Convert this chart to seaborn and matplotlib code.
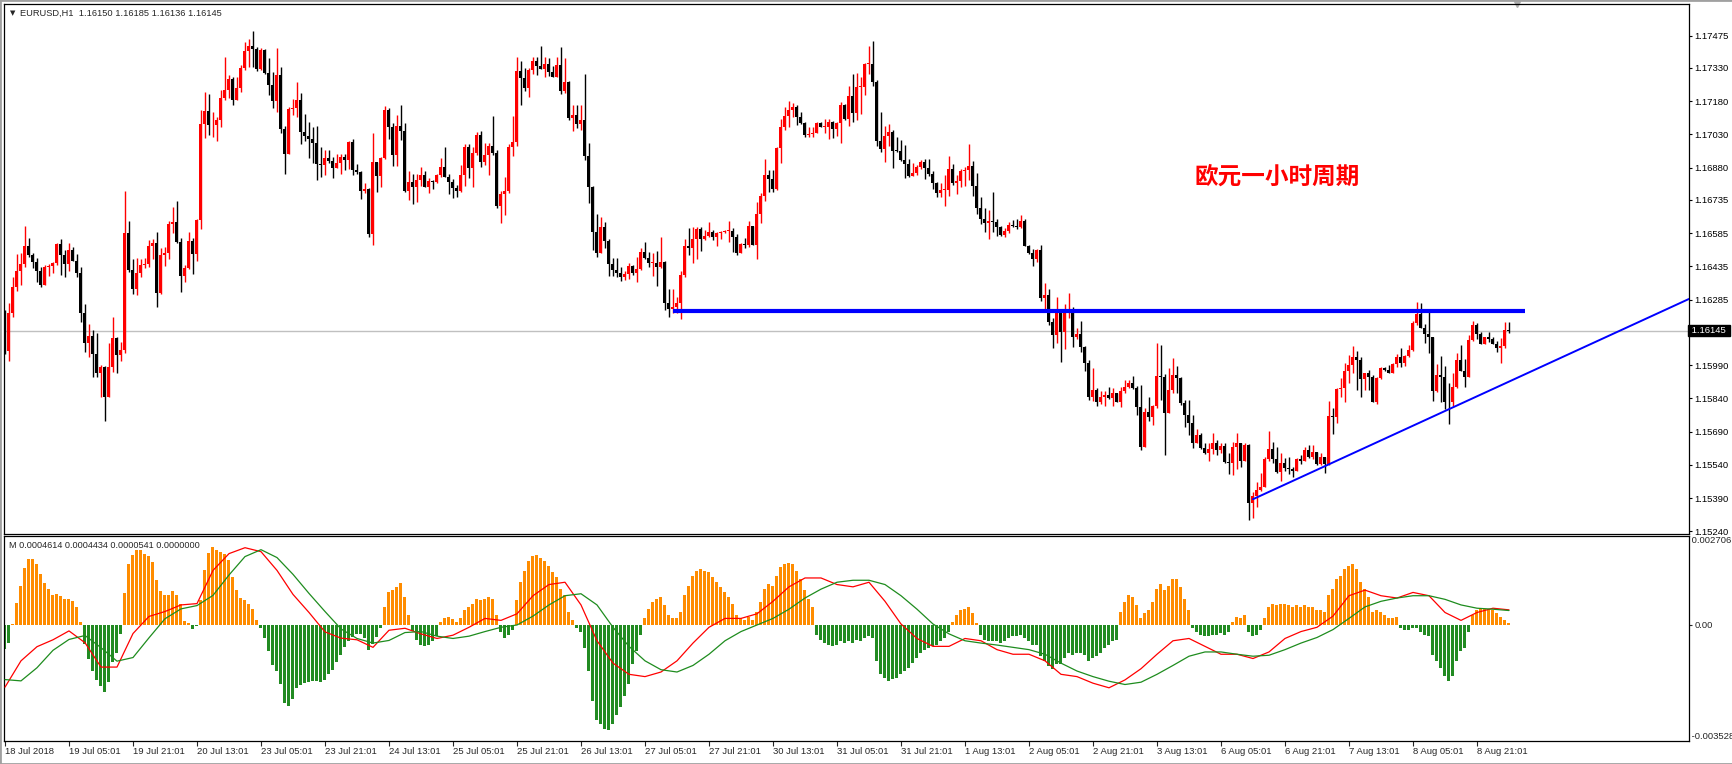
import numpy as np
import matplotlib
matplotlib.use("Agg")
import matplotlib.pyplot as plt
import matplotlib.transforms as mtransforms
from matplotlib.patches import Rectangle
import seaborn as sns

sns.set_theme(style="white")
plt.rcParams['font.family'] = ['Liberation Sans', 'DejaVu Sans']

# ---------------- data ----------------
symbol_header = "EURUSD,H1  1.16150 1.16185 1.16136 1.16145"
ind_header = "M 0.0004614 0.0004434 0.0000541 0.0000000"
title_cn = "欧元一小时周期"

first_open = 1.16198
close = [
1.16055,1.16223,1.16342,1.16414,1.16446,1.16527,1.16488,1.16456,1.16416,1.16351,
1.16432,1.16437,1.16450,1.16536,1.16486,1.16447,1.16509,1.16461,1.16407,1.16226,
1.16091,1.16123,1.16039,1.15956,1.15981,1.15848,1.15981,1.16112,1.16037,1.16058,
1.16584,1.16419,1.16335,1.16404,1.16441,1.16447,1.16527,1.16542,1.16317,1.16486,
1.16497,1.16628,1.16637,1.16546,1.16392,1.16429,1.16551,1.16489,1.16644,1.17077,
1.17137,1.17071,1.17071,1.17095,1.17194,1.17230,1.17280,1.17185,1.17241,1.17331,
1.17406,1.17430,1.17417,1.17325,1.17411,1.17305,1.17253,1.17179,1.17298,1.17056,
1.16942,1.17145,1.17149,1.17185,1.17043,1.17025,1.17008,1.16993,1.16897,1.16894,
1.16924,1.16909,1.16880,1.16900,1.16930,1.16913,1.16996,1.16871,1.16859,1.16776,
1.16782,1.16583,1.16906,1.16844,1.16924,1.17140,1.17065,1.16937,1.17068,1.17047,
1.16775,1.16814,1.16794,1.16825,1.16847,1.16794,1.16820,1.16815,1.16847,1.16885,
1.16840,1.16817,1.16790,1.16776,1.16846,1.16975,1.16880,1.16945,1.17027,1.16906,
1.16937,1.16978,1.16948,1.16707,1.16761,1.16775,1.16973,1.16996,1.17316,1.17286,
1.17241,1.17320,1.17361,1.17340,1.17327,1.17348,1.17313,1.17290,1.17343,1.17227,
1.17266,1.17106,1.17119,1.17076,1.17095,1.16933,1.16794,1.16589,1.16497,1.16614,
1.16551,1.16446,1.16419,1.16404,1.16389,1.16401,1.16437,1.16404,1.16423,1.16500,
1.16473,1.16452,1.16452,1.16434,1.16455,1.16271,1.16241,1.16250,1.16268,1.16395,
1.16527,1.16519,1.16560,1.16604,1.16560,1.16574,1.16592,1.16569,1.16584,1.16592,
1.16596,1.16596,1.16569,1.16497,1.16536,1.16531,1.16619,1.16531,1.16671,1.16754,
1.16847,1.16828,1.16782,1.16969,1.17065,1.17113,1.17140,1.17152,1.17110,1.17083,
1.17027,1.17034,1.17036,1.17083,1.17065,1.17065,1.17088,1.17056,1.17080,1.17163,
1.17100,1.17203,1.17128,1.17244,1.17245,1.17348,1.17349,1.17268,1.17002,1.16963,
1.17023,1.17043,1.16957,1.16955,1.16915,1.16897,1.16843,1.16858,1.16885,1.16907,
1.16880,1.16850,1.16809,1.16767,1.16779,1.16779,1.16874,1.16809,1.16820,1.16865,
1.16870,1.16888,1.16799,1.16700,1.16647,1.16629,1.16640,1.16635,1.16614,1.16577,
1.16596,1.16622,1.16619,1.16611,1.16638,1.16528,1.16497,1.16467,1.16509,1.16294,
1.16306,1.16186,1.16124,1.16223,1.16141,1.16235,1.16243,1.16118,1.16130,1.16073,
1.15998,1.15848,1.15878,1.15825,1.15848,1.15855,1.15843,1.15863,1.15825,1.15873,
1.15893,1.15911,1.15885,1.15799,1.15619,1.15780,1.15757,1.15805,1.15941,1.15938,
1.15775,1.15878,1.15945,1.15930,1.15817,1.15765,1.15727,1.15637,1.15675,1.15618,
1.15595,1.15610,1.15637,1.15607,1.15625,1.15553,1.15550,1.15619,1.15637,1.15558,
1.15630,1.15370,1.15401,1.15427,1.15442,1.15567,1.15612,1.15565,1.15508,1.15550,
1.15525,1.15522,1.15510,1.15567,1.15559,1.15607,1.15574,1.15598,1.15544,1.15573,
1.15544,1.15762,1.15755,1.15882,1.15885,1.15964,1.15991,1.16024,1.16013,1.15929,
1.15953,1.15938,1.15825,1.15930,1.15978,1.15968,1.15956,1.15994,1.16024,1.15998,
1.16031,1.16058,1.16178,1.16220,1.16159,1.16129,1.16115,1.15875,1.15945,1.15938,
1.15825,1.15821,1.15890,1.16013,1.15965,1.15938,1.16103,1.16171,1.16130,1.16085,
1.16115,1.16108,1.16085,1.16069,1.16076,1.16148,1.16145]

high = [
1.16238,1.16270,1.16389,1.16491,1.16497,1.16619,1.16561,1.16494,1.16473,1.16434,
1.16441,1.16444,1.16453,1.16539,1.16558,1.16509,1.16542,1.16524,1.16491,1.16434,
1.16265,1.16175,1.16148,1.16133,1.15990,1.15986,1.16088,1.16208,1.16118,1.16094,
1.16776,1.16640,1.16467,1.16471,1.16467,1.16473,1.16554,1.16558,1.16592,1.16516,
1.16521,1.16640,1.16704,1.16730,1.16561,1.16441,1.16592,1.16561,1.16647,1.17140,
1.17223,1.17212,1.17133,1.17110,1.17230,1.17381,1.17298,1.17287,1.17287,1.17342,
1.17447,1.17460,1.17496,1.17426,1.17418,1.17414,1.17376,1.17310,1.17421,1.17336,
1.17068,1.17152,1.17190,1.17268,1.17217,1.17122,1.17086,1.17065,1.17068,1.16975,
1.16960,1.16960,1.16927,1.16940,1.16942,1.16942,1.17002,1.17011,1.16897,1.16867,
1.16809,1.16787,1.17036,1.16907,1.16930,1.17158,1.17148,1.17080,1.17118,1.17163,
1.17080,1.16865,1.16852,1.16852,1.16882,1.16867,1.16832,1.16825,1.16852,1.16924,
1.16973,1.16852,1.16829,1.16802,1.16892,1.16987,1.16987,1.16975,1.17043,1.17047,
1.16990,1.16990,1.17113,1.16960,1.16776,1.16840,1.16987,1.17113,1.17381,1.17361,
1.17328,1.17328,1.17381,1.17381,1.17429,1.17381,1.17376,1.17339,1.17381,1.17423,
1.17373,1.17272,1.17163,1.17163,1.17163,1.17302,1.16990,1.16799,1.16670,1.16659,
1.16637,1.16557,1.16473,1.16473,1.16434,1.16416,1.16449,1.16441,1.16476,1.16516,
1.16546,1.16501,1.16494,1.16503,1.16567,1.16461,1.16332,1.16332,1.16298,1.16413,
1.16557,1.16607,1.16611,1.16611,1.16611,1.16599,1.16635,1.16599,1.16592,1.16596,
1.16599,1.16640,1.16607,1.16580,1.16539,1.16561,1.16640,1.16619,1.16727,1.16764,
1.16918,1.16870,1.16870,1.16975,1.17101,1.17152,1.17181,1.17170,1.17163,1.17131,
1.17088,1.17062,1.17065,1.17088,1.17088,1.17100,1.17100,1.17092,1.17085,1.17178,
1.17166,1.17248,1.17302,1.17308,1.17290,1.17354,1.17429,1.17451,1.17275,1.17131,
1.17068,1.17077,1.17050,1.17020,1.17005,1.16982,1.16918,1.16903,1.16891,1.16915,
1.16918,1.16919,1.16867,1.16817,1.16809,1.16846,1.16933,1.16897,1.16847,1.16873,
1.16882,1.16987,1.16912,1.16855,1.16749,1.16697,1.16689,1.16770,1.16647,1.16619,
1.16607,1.16637,1.16644,1.16647,1.16667,1.16647,1.16531,1.16515,1.16512,1.16531,
1.16359,1.16332,1.16201,1.16298,1.16223,1.16265,1.16313,1.16253,1.16156,1.16189,
1.16076,1.16013,1.15975,1.15885,1.15875,1.15875,1.15890,1.15887,1.15866,1.15893,
1.15923,1.15923,1.15941,1.15896,1.15900,1.15795,1.15848,1.15810,1.16091,1.16081,
1.15950,1.15975,1.16023,1.15986,1.15938,1.15833,1.15833,1.15765,1.15700,1.15685,
1.15640,1.15640,1.15682,1.15652,1.15640,1.15640,1.15592,1.15645,1.15685,1.15640,
1.15640,1.15633,1.15416,1.15461,1.15502,1.15577,1.15693,1.15645,1.15622,1.15592,
1.15570,1.15574,1.15532,1.15570,1.15585,1.15619,1.15630,1.15630,1.15600,1.15592,
1.15577,1.15828,1.15795,1.15885,1.15930,1.15998,1.16036,1.16076,1.16055,1.16028,
1.15956,1.15968,1.15945,1.15938,1.15983,1.15983,1.15991,1.16001,1.16039,1.16066,
1.16036,1.16081,1.16190,1.16275,1.16269,1.16174,1.16238,1.16118,1.15995,1.16031,
1.15986,1.15911,1.15953,1.16046,1.16081,1.16016,1.16126,1.16189,1.16181,1.16138,
1.16118,1.16141,1.16118,1.16099,1.16111,1.16183,1.16185]

low = [
1.16039,1.16010,1.16208,1.16324,1.16351,1.16434,1.16479,1.16429,1.16366,1.16344,
1.16351,1.16392,1.16404,1.16441,1.16396,1.16389,1.16416,1.16458,1.16389,1.16186,
1.16050,1.16028,1.15938,1.15938,1.15848,1.15739,1.15848,1.15960,1.15953,1.16010,
1.16043,1.16410,1.16310,1.16306,1.16389,1.16426,1.16431,1.16467,1.16250,1.16310,
1.16438,1.16468,1.16584,1.16542,1.16321,1.16366,1.16422,1.16401,1.16461,1.16602,
1.17012,1.17027,1.17020,1.17002,1.17062,1.17185,1.17193,1.17163,1.17230,1.17223,
1.17320,1.17336,1.17333,1.17317,1.17320,1.17302,1.17208,1.17148,1.17131,1.17035,
1.16852,1.16942,1.17118,1.17110,1.16987,1.17002,1.16925,1.16900,1.16825,1.16837,
1.16847,1.16900,1.16835,1.16885,1.16852,1.16870,1.16873,1.16849,1.16852,1.16739,
1.16767,1.16569,1.16531,1.16770,1.16794,1.16918,1.17009,1.16889,1.16889,1.17005,
1.16772,1.16734,1.16716,1.16727,1.16797,1.16791,1.16767,1.16782,1.16809,1.16837,
1.16837,1.16761,1.16745,1.16749,1.16772,1.16797,1.16834,1.16794,1.16937,1.16883,
1.16892,1.16847,1.16937,1.16700,1.16632,1.16667,1.16767,1.16934,1.16978,1.17164,
1.17226,1.17200,1.17302,1.17299,1.17324,1.17287,1.17293,1.17290,1.17290,1.17212,
1.17218,1.17097,1.17047,1.17057,1.17050,1.16915,1.16719,1.16509,1.16479,1.16498,
1.16516,1.16393,1.16392,1.16389,1.16369,1.16375,1.16377,1.16396,1.16366,1.16419,
1.16467,1.16434,1.16392,1.16348,1.16428,1.16238,1.16208,1.16223,1.16226,1.16196,
1.16389,1.16486,1.16449,1.16467,1.16506,1.16554,1.16569,1.16554,1.16528,1.16560,
1.16584,1.16546,1.16501,1.16486,1.16494,1.16516,1.16524,1.16531,1.16468,1.16632,
1.16730,1.16772,1.16772,1.16779,1.16903,1.17050,1.17065,1.17110,1.17073,1.17076,
1.17017,1.17017,1.17017,1.17050,1.17062,1.17035,1.17008,1.17012,1.17025,1.16990,
1.17095,1.17068,1.17088,1.17095,1.17122,1.17208,1.17302,1.17250,1.16978,1.16949,
1.16907,1.16978,1.16880,1.16949,1.16910,1.16832,1.16837,1.16847,1.16849,1.16873,
1.16828,1.16843,1.16784,1.16749,1.16746,1.16709,1.16752,1.16800,1.16761,1.16794,
1.16799,1.16825,1.16754,1.16670,1.16626,1.16592,1.16560,1.16590,1.16572,1.16572,
1.16569,1.16584,1.16614,1.16602,1.16607,1.16527,1.16491,1.16438,1.16453,1.16280,
1.16235,1.16169,1.16068,1.16091,1.16002,1.16061,1.16204,1.16070,1.16106,1.16050,
1.15965,1.15833,1.15830,1.15807,1.15814,1.15807,1.15837,1.15807,1.15825,1.15802,
1.15866,1.15885,1.15882,1.15765,1.15607,1.15619,1.15739,1.15720,1.15795,1.15833,
1.15582,1.15772,1.15866,1.15863,1.15810,1.15709,1.15675,1.15615,1.15645,1.15610,
1.15589,1.15558,1.15589,1.15585,1.15592,1.15547,1.15499,1.15492,1.15522,1.15529,
1.15555,1.15289,1.15299,1.15352,1.15424,1.15439,1.15558,1.15547,1.15505,1.15469,
1.15510,1.15499,1.15487,1.15525,1.15544,1.15555,1.15570,1.15565,1.15540,1.15540,
1.15505,1.15540,1.15681,1.15728,1.15845,1.15821,1.15908,1.15953,1.15878,1.15848,
1.15878,1.15878,1.15825,1.15815,1.15927,1.15965,1.15956,1.15953,1.15980,1.15983,
1.15987,1.16025,1.16051,1.16171,1.16156,1.16091,1.16046,1.15830,1.15870,1.15821,
1.15792,1.15723,1.15803,1.15885,1.15964,1.15893,1.15938,1.16099,1.16108,1.16084,
1.16084,1.16093,1.16084,1.16048,1.16001,1.16066,1.16136]

# indicator histogram, one value per bar
hist = [
-0.00072,-0.00054,0.00004,0.00067,0.00119,0.00174,0.00201,0.00201,0.00184,0.00154,
0.00127,0.00108,0.00091,0.00093,0.00089,0.00078,0.00078,0.00073,0.00054,0.00008,
-0.00057,-0.00103,-0.00141,-0.00167,-0.00185,-0.00204,-0.00173,-0.00113,-0.00084,-0.00028,
0.00096,0.00184,0.00213,0.00227,0.00227,0.00217,0.00210,0.00192,0.00136,0.00103,
0.00090,0.00091,0.00103,0.00091,0.00063,0.00012,0.00006,-0.00011,-0.00003,0.00075,
0.00166,0.00218,0.00237,0.00229,0.00223,0.00217,0.00197,0.00146,0.00107,0.00083,
0.00075,0.00063,0.00048,0.00014,-0.00008,-0.00039,-0.00079,-0.00122,-0.00140,-0.00180,
-0.00237,-0.00246,-0.00224,-0.00193,-0.00182,-0.00176,-0.00172,-0.00170,-0.00169,-0.00173,
-0.00167,-0.00150,-0.00137,-0.00113,-0.00092,-0.00067,-0.00049,-0.00036,-0.00028,-0.00028,
-0.00039,-0.00075,-0.00057,-0.00036,-0.00008,0.00055,0.00100,0.00105,0.00116,0.00127,
0.00085,0.00030,-0.00018,-0.00047,
-0.00060,-0.00065,-0.00060,-0.00050,-0.00035,0.00010,0.00022,0.00025,0.00018,0.00010,
0.00020,0.00045,0.00055,0.00065,0.00080,0.00075,0.00078,0.00085,0.00080,0.00030,
-0.00020,-0.00040,-0.00030,-0.00015,0.00075,0.00130,0.00165,0.00195,0.00210,0.00212,
0.00205,0.00195,0.00180,0.00160,0.00145,0.00110,0.00090,0.00040,0.00015,-0.00010,
-0.00020,-0.00070,-0.00140,-0.00230,-0.00290,-0.00300,-0.00315,-0.00320,-0.00300,-0.00275,
-0.00250,-0.00215,-0.00180,-0.00120,-0.00080,-0.00030,0.00020,0.00050,0.00070,0.00080,
0.00085,0.00060,0.00030,0.00020,0.00020,0.00040,0.00090,0.00120,0.00150,0.00165,
0.00170,0.00165,0.00160,0.00145,0.00130,0.00115,0.00100,0.00085,0.00065,0.00030,
0.00020,0.00015,0.00025,0.00015,0.00040,0.00070,0.00110,0.00125,0.00120,0.00150,
0.00175,0.00185,0.00190,0.00185,0.00165,0.00140,0.00105,0.00080,0.00055,-0.00030,
-0.00045,-0.00055,-0.00060,-0.00065,-0.00060,-0.00050,-0.00055,-0.00050,-0.00055,-0.00045,
-0.00050,-0.00040,-0.00035,-0.00040,-0.00110,-0.00150,-0.00160,-0.00170,-0.00165,-0.00160,
-0.00150,-0.00140,-0.00130,-0.00115,-0.00100,-0.00085,-0.00075,-0.00070,-0.00065,-0.00060,
-0.00050,-0.00040,-0.00020,0.00010,0.00030,0.00045,0.00050,0.00055,0.00035,0.00005,
-0.00030,-0.00045,-0.00050,-0.00050,-0.00050,-0.00055,-0.00050,-0.00040,-0.00035,-0.00035,
-0.00030,-0.00040,-0.00050,-0.00060,-0.00060,-0.00095,-0.00110,-0.00125,-0.00135,-0.00120,
-0.00120,-0.00100,-0.00085,-0.00090,-0.00085,-0.00085,-0.00090,-0.00110,-0.00100,-0.00095,
-0.00085,-0.00070,-0.00060,-0.00050,-0.00045,0.00040,0.00070,0.00090,0.00085,0.00060,
0.00020,0.00035,0.00045,0.00070,0.00110,0.00125,0.00105,0.00120,0.00140,0.00140,
0.00115,0.00080,0.00045,-0.00010,-0.00020,-0.00030,-0.00035,-0.00035,-0.00030,-0.00030,
-0.00025,-0.00030,-0.00020,0.00010,0.00025,0.00020,0.00030,-0.00020,-0.00035,-0.00030,
-0.00015,0.00020,0.00055,0.00065,0.00060,0.00065,0.00065,0.00060,0.00055,0.00060,
0.00055,0.00060,0.00055,0.00055,0.00045,0.00045,0.00040,0.00090,0.00110,0.00140,
0.00150,0.00170,0.00180,0.00185,0.00170,0.00130,0.00110,0.00085,0.00040,0.00045,
0.00040,0.00030,0.00020,0.00020,0.00025,-0.00010,-0.00015,-0.00015,-0.00010,-0.00010,
-0.00020,-0.00030,-0.00035,-0.00090,-0.00110,-0.00130,-0.00155,-0.00170,-0.00155,-0.00110,
-0.00080,-0.00070,-0.00020,0.00030,0.00045,0.00050,0.00050,0.00048,0.00045,0.00035,
0.00025,0.00015,0.00005]

# signal lines, sampled every 4 bars
line_step = 4
red_line = [
-0.00189,-0.00109,-0.00066,-0.00045,-0.00018,-0.00054,-0.00128,-0.00128,-0.00026,0.00026,
0.00041,0.00061,0.00065,0.00166,0.00217,0.00235,0.00223,0.00166,0.00093,0.00038,
-0.00021,-0.00040,-0.00045,-0.00068,-0.00016,-0.00010,
-0.00027,-0.00041,-0.00031,-0.00007,0.00020,0.00014,0.00034,0.00089,0.00123,0.00130,
0.00061,-0.00048,-0.00116,-0.00150,-0.00157,-0.00143,-0.00109,-0.00055,-0.00007,0.00020,
0.00020,0.00034,0.00072,0.00116,0.00143,0.00143,0.00123,0.00116,0.00130,0.00072,
0.00003,-0.00041,-0.00065,-0.00065,-0.00041,-0.00048,-0.00075,-0.00089,-0.00089,-0.00109,
-0.00150,-0.00157,-0.00177,-0.00191,-0.00167,-0.00133,-0.00089,-0.00048,-0.00041,-0.00065,
-0.00089,-0.00089,-0.00102,-0.00082,-0.00041,-0.00020,-0.00007,0.00027,0.00089,0.00106,
0.00089,0.00082,0.00099,0.00089,0.00038,0.00014,0.00038,0.00051,0.00046]
green_line = [
-0.00166,-0.00170,-0.00130,-0.00077,-0.00044,-0.00032,-0.00069,-0.00110,-0.00099,-0.00039,
0.00019,0.00049,0.00059,0.00090,0.00152,0.00208,0.00229,0.00205,0.00154,0.00096,
0.00041,-0.00012,-0.00041,-0.00055,-0.00047,-0.00023,
-0.00020,-0.00034,-0.00041,-0.00034,-0.00020,-0.00007,0.00000,0.00027,0.00061,0.00089,
0.00095,0.00061,-0.00007,-0.00065,-0.00109,-0.00136,-0.00143,-0.00123,-0.00089,-0.00048,
-0.00020,0.00000,0.00020,0.00048,0.00082,0.00109,0.00130,0.00136,0.00136,0.00123,
0.00089,0.00048,0.00003,-0.00027,-0.00048,-0.00055,-0.00061,-0.00068,-0.00075,-0.00089,
-0.00116,-0.00140,-0.00157,-0.00171,-0.00181,-0.00174,-0.00150,-0.00123,-0.00095,-0.00082,
-0.00082,-0.00089,-0.00095,-0.00092,-0.00075,-0.00055,-0.00038,-0.00014,0.00020,0.00055,
0.00072,0.00082,0.00089,0.00089,0.00078,0.00061,0.00051,0.00048,0.00044]

price_ticks = [1.17475,1.17330,1.17180,1.17030,1.16880,1.16735,1.16585,1.16435,1.16285,
               1.15990,1.15840,1.15690,1.15540,1.15390,1.15240]
current_price = 1.16145
time_labels = ["18 Jul 2018","19 Jul 05:01","19 Jul 21:01","20 Jul 13:01","23 Jul 05:01",
               "23 Jul 21:01","24 Jul 13:01","25 Jul 05:01","25 Jul 21:01","26 Jul 13:01",
               "27 Jul 05:01","27 Jul 21:01","30 Jul 13:01","31 Jul 05:01","31 Jul 21:01",
               "1 Aug 13:01","2 Aug 05:01","2 Aug 21:01","3 Aug 13:01","6 Aug 05:01",
               "6 Aug 21:01","7 Aug 13:01","8 Aug 05:01","8 Aug 21:01"]
bars_per_label = 16

resistance_price = 1.16235
resistance_bars = [167, 380]
trend_bars = [312, 421]
trend_prices = [1.15385, 1.16288]

ind_max = 0.002706
ind_min = -0.003528

# ---------------- figure ----------------
W, H = 1733, 764
fig = plt.figure(figsize=(W / 100, H / 100), dpi=100)
fig.patch.set_facecolor('white')

def rect(x0, y0, x1, y1):
    return [x0 / W, 1 - y1 / H, (x1 - x0) / W, (y1 - y0) / H]

ax = fig.add_axes(rect(4, 4, 1689, 534))
ax2 = fig.add_axes(rect(4, 536, 1689, 741))

c = np.array(close)
hi = np.array(high)
lo = np.array(low)
o = np.array([first_open] + close[:-1])
n = len(c)
x = np.arange(n)
bull = c >= o
cols = np.where(bull, '#FF0000', '#000000')
body_lo = np.minimum(o, c)
body_h = np.maximum(np.abs(c - o), 0.00003)
wick_hi = np.maximum(hi, np.maximum(o, c))
wick_lo = np.minimum(lo, np.minimum(o, c))

ax.vlines(x, wick_lo, wick_hi, colors=cols, linewidth=1.0, zorder=3)
ax.bar(x, body_h, bottom=body_lo, width=0.75, color=cols, linewidth=0, zorder=4)

ax.axhline(current_price, color='#C0C0C0', linewidth=1.0, zorder=1)
ax.plot(resistance_bars, [resistance_price, resistance_price], color='#0000FF', linewidth=3.0, zorder=5,
        solid_capstyle='butt')
ax.plot(trend_bars, trend_prices, color='#0000FF', linewidth=1.4, zorder=5)

xlim = (-0.25, 421)
ax.set_xlim(*xlim)
ax.set_ylim(1.15228, 1.17618)
ax.set_xticks([])
ax.yaxis.tick_right()
ax.set_yticks(price_ticks)
ax.set_yticklabels([f"{v:.5f}" for v in price_ticks])
ax.tick_params(axis='y', direction='out', length=2, width=0.8, pad=2, labelsize=6.8, colors='black',
               right=True, left=False)

# current price tag
trans = mtransforms.blended_transform_factory(ax.transAxes, ax.transData)
ax.text(1.0, current_price, f" {current_price:.5f} ", transform=trans, ha='left', va='center',
        fontsize=6.8, color='white', clip_on=False,
        bbox=dict(boxstyle='square,pad=0.12', facecolor='black', edgecolor='black'))

# shift marker
ax.plot([378], [1.0], marker='v', color='#B0B0B0', markersize=5,
        transform=mtransforms.blended_transform_factory(ax.transData, ax.transAxes), clip_on=False)

# chinese annotation
fig.text(1277 / W, 1 - 177 / H, title_cn, color='#FF0000', fontsize=17, ha='center', va='center',
         family=['Noto Sans CJK SC', 'DejaVu Sans'], fontweight='bold')

# headers
fig.text(10 / W, 1 - 13.5 / H, '▼', fontsize=5, family='DejaVu Sans', va='center', ha='left')
fig.text(20.5 / W, 1 - 13.5 / H, symbol_header, fontsize=6.7, va='center', ha='left')
fig.text(9 / W, 1 - 546 / H, ind_header, fontsize=6.6, va='center', ha='left')

# ---------------- indicator panel ----------------
hv = np.array(hist)
hx = np.arange(len(hv))
hcols = np.where(hv >= 0, '#FF8C00', '#228B22')
ax2.bar(hx, hv, width=0.75, color=hcols, linewidth=0, zorder=2)

lx = np.arange(len(red_line)) * line_step
sns.lineplot(x=lx, y=red_line, ax=ax2, color='#FF0000', linewidth=0.9, zorder=3)
sns.lineplot(x=lx, y=green_line, ax=ax2, color='#1E8C1E', linewidth=0.9, zorder=3)

ax2.set_xlim(*xlim)
ax2.set_ylim(ind_min, ind_max)
ax2.yaxis.tick_right()
ax2.set_yticks([0.0])
ax2.set_yticklabels(['0.00'])
ax2.tick_params(axis='y', direction='out', length=2, width=0.8, pad=2, labelsize=6.8, right=True, left=False)
tk = np.arange(len(time_labels)) * bars_per_label
ax2.set_xticks(tk)
ax2.set_xticklabels(time_labels)
for lab in ax2.get_xticklabels():
    lab.set_ha('left')
ax2.tick_params(axis='x', direction='out', length=3.5, width=0.8, pad=0.5, labelsize=6.8, bottom=True)
ax2.set_xlabel('')
ax2.set_ylabel('')

ax2.text(1.0, 1.0, ' ' + f"{ind_max:.6f}", transform=ax2.transAxes, ha='left', va='top', fontsize=6.8)
ax2.text(1.0, 0.0, ' ' + f"{ind_min:.6f}", transform=ax2.transAxes, ha='left', va='bottom', fontsize=6.8)

for a in (ax, ax2):
    for s in a.spines.values():
        s.set_color('black')
        s.set_linewidth(0.9)
    a.set_facecolor('white')
    a.grid(False)

fig.patches.append(Rectangle((0, 0), 1, 1, transform=fig.transFigure, fill=False,
                             edgecolor='#A0A0A0', linewidth=2))

fig.savefig('out.png', dpi=100)
